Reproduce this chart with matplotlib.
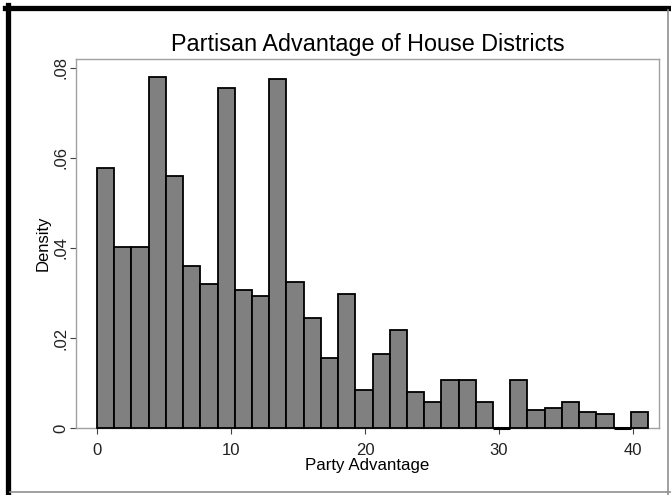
import numpy as np
import matplotlib
matplotlib.use("Agg")
import matplotlib.pyplot as plt
from matplotlib.lines import Line2D

plt.rcParams["font.family"] = ["Liberation Sans", "DejaVu Sans"]

# histogram densities, one per bin (32 bins from 0)
density = [0.0577, 0.0403, 0.0403, 0.0781, 0.0559, 0.0361, 0.0320, 0.0755,
           0.0307, 0.0293, 0.0776, 0.0324, 0.0244, 0.0155, 0.0298, 0.0084,
           0.0164, 0.0218, 0.0079, 0.0058, 0.0106, 0.0106, 0.0058, 0.0,
           0.0106, 0.0039, 0.0044, 0.0058, 0.0035, 0.0030, 0.0, 0.0035]
bin_width = 1.285
x_ticks = [0, 10, 20, 30, 40]
y_ticks = [0, 0.02, 0.04, 0.06, 0.08]
y_tick_labels = ["0", ".02", ".04", ".06", ".08"]

edges = np.arange(len(density)) * bin_width
dens = np.array(density)

fig = plt.figure(figsize=(6.71, 4.95), dpi=100)
ax = fig.add_axes([0.1133, 0.1354, 0.8688, 0.7455])

bars = ax.bar(edges, dens, width=bin_width, align="edge",
              color="#808080", edgecolor="black", linewidth=1.3, zorder=3)
for b in bars:
    b.set_clip_on(False)

# empty bins show as a flat black line on the baseline
empty = dens == 0
ax.hlines(np.zeros(empty.sum()), edges[empty], edges[empty] + bin_width,
          color="black", linewidth=2.2, zorder=4, clip_on=False)

ax.set_xlim(-1.57, 41.94)
ax.set_ylim(0, 0.082)
ax.set_xticks(x_ticks)
ax.set_yticks(y_ticks)
ax.set_yticklabels(y_tick_labels, rotation=90, va="center")
ax.tick_params(axis="both", length=4.5, width=0.8, color="#404040",
               labelsize=12, labelcolor="#222222")
ax.tick_params(axis="y", pad=1)
ax.tick_params(axis="x", pad=6)
for s in ax.spines.values():
    s.set_color("#a0a0a0")
    s.set_linewidth(1.0)

ax.set_title("Partisan Advantage of House Districts", fontsize=16.8, pad=6)
ax.set_xlabel("Party Advantage", fontsize=12.2, labelpad=0)
ax.set_ylabel("Density", fontsize=12, labelpad=2)

# frame around the whole graph: heavy black top/left, thin grey right/bottom
W, H = 671, 495
fig.add_artist(Line2D([7.5 / W, 7.5 / W], [0, 1 - 5 / H], color="black",
                      linewidth=3.8, transform=fig.transFigure))
fig.add_artist(Line2D([5 / W, 1], [1 - 7.5 / H, 1 - 7.5 / H], color="black",
                      linewidth=3.8, transform=fig.transFigure))
fig.add_artist(Line2D([668 / W, 668 / W], [0, 1 - 10 / H], color="#909090",
                      linewidth=1.2, transform=fig.transFigure))
fig.add_artist(Line2D([10 / W, 1], [3 / H, 3 / H], color="#909090",
                      linewidth=1.2, transform=fig.transFigure))

fig.savefig("out.png", dpi=100)
